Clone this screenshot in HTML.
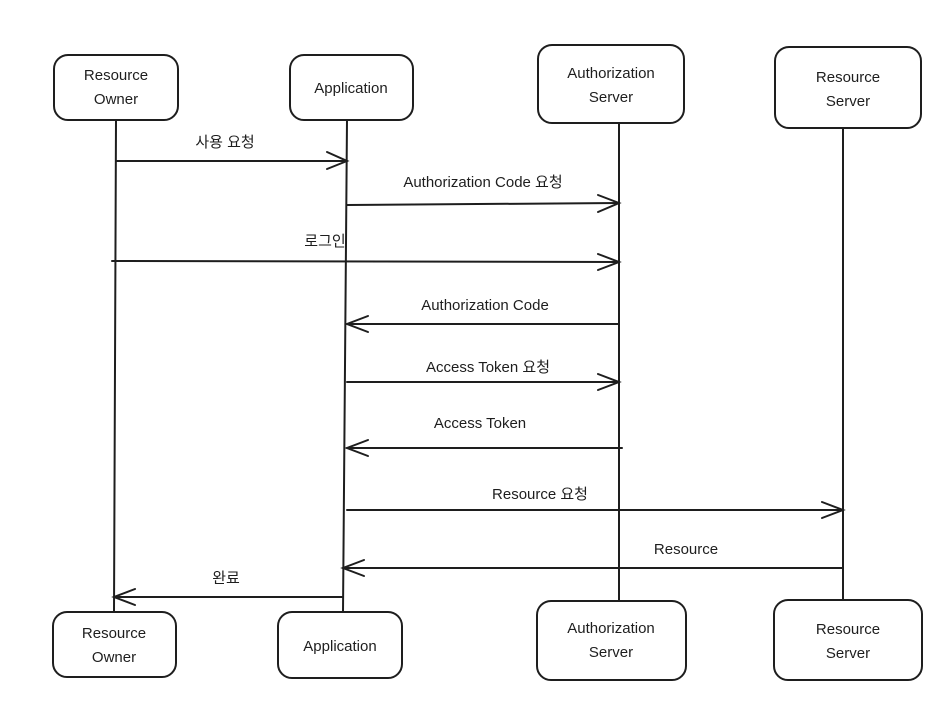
<!DOCTYPE html>
<html><head><meta charset="utf-8"><style>
html,body{margin:0;padding:0;background:#fff}
svg text{font-family:"Liberation Sans","Noto Sans CJK KR",sans-serif;font-size:15px;fill:#1e1e1e}
</style></head><body>
<svg width="951" height="697" viewBox="0 0 951 697" xmlns="http://www.w3.org/2000/svg">
<g stroke="#1e1e1e" stroke-width="2" fill="none" stroke-linecap="round">
<!-- lifelines -->
<line x1="116" y1="120" x2="114" y2="612"/>
<line x1="347" y1="120" x2="343" y2="612"/>
<line x1="619" y1="123" x2="619" y2="601"/>
<line x1="843" y1="128" x2="843" y2="600"/>
<!-- boxes -->
<rect x="54" y="55" width="124" height="65" rx="14"/>
<rect x="290" y="55" width="123" height="65" rx="14"/>
<rect x="538" y="45" width="146" height="78" rx="14"/>
<rect x="775" y="47" width="146" height="81" rx="14"/>
<rect x="53" y="612" width="123" height="65" rx="14"/>
<rect x="278" y="612" width="124" height="66" rx="14"/>
<rect x="537" y="601" width="149" height="79" rx="14"/>
<rect x="774" y="600" width="148" height="80" rx="14"/>
<!-- arrows -->
<line x1="116" y1="161" x2="347" y2="161"/><polyline points="327,152 347,161 327,169"/>
<line x1="347" y1="205" x2="619" y2="203"/><polyline points="598,195 619,203 598,212"/>
<line x1="112" y1="261" x2="619" y2="262"/><polyline points="598,254 619,262 598,270"/>
<line x1="619" y1="324" x2="347" y2="324"/><polyline points="368,316 347,324 368,332"/>
<line x1="347" y1="382" x2="619" y2="382"/><polyline points="598,374 619,382 598,390"/>
<line x1="622" y1="448" x2="347" y2="448"/><polyline points="368,440 347,448 368,456"/>
<line x1="347" y1="510" x2="843" y2="510"/><polyline points="822,502 843,510 822,518"/>
<line x1="843" y1="568" x2="343" y2="568"/><polyline points="364,560 343,568 364,576"/>
<line x1="343" y1="597" x2="114" y2="597"/><polyline points="135,589 114,597 135,605"/>
</g>
<g text-anchor="middle">
<text x="116" y="80">Resource</text><text x="116" y="104">Owner</text>
<text x="351" y="93">Application</text>
<text x="611" y="78">Authorization</text><text x="611" y="102">Server</text>
<text x="848" y="82">Resource</text><text x="848" y="106">Server</text>
<text x="114" y="638">Resource</text><text x="114" y="662">Owner</text>
<text x="340" y="651">Application</text>
<text x="611" y="633">Authorization</text><text x="611" y="657">Server</text>
<text x="848" y="634">Resource</text><text x="848" y="658">Server</text>
<text x="225" y="147">사용 요청</text>
<text x="483" y="187">Authorization Code 요청</text>
<text x="325" y="246">로그인</text>
<text x="485" y="310">Authorization Code</text>
<text x="488" y="372">Access Token 요청</text>
<text x="480" y="428">Access Token</text>
<text x="540" y="499">Resource 요청</text>
<text x="686" y="554">Resource</text>
<text x="226" y="583">완료</text>
</g>
</svg>
</body></html>
